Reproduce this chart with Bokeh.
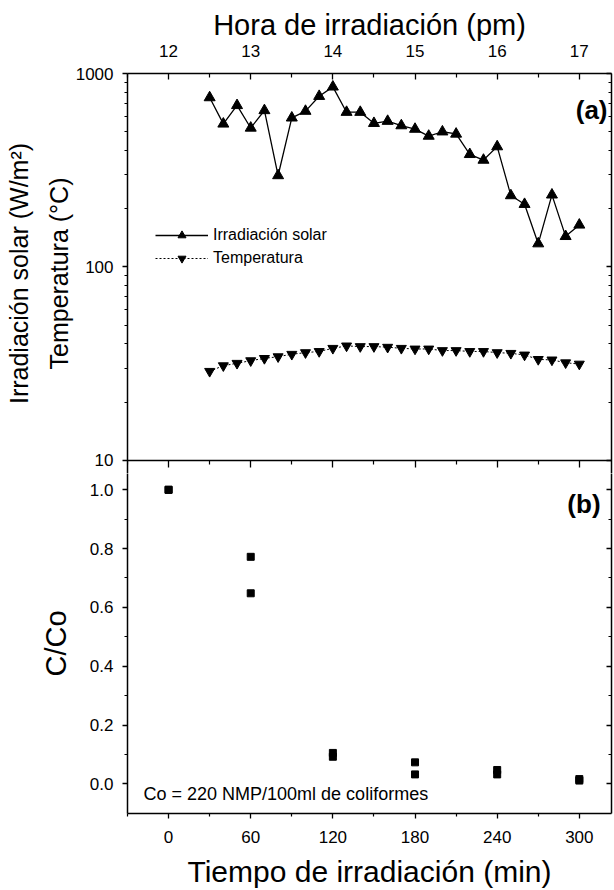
from bokeh.plotting import figure
from bokeh.layouts import column
from bokeh.models import (Range1d, LinearAxis, LogAxis, FixedTicker,
                          Legend, LegendItem, Label, PrintfTickFormatter)
from bokeh.embed import file_html
from bokeh.resources import INLINE

FONT = "Liberation Sans"

# ---------------- data ----------------
minutes = [30, 40, 50, 60, 70, 80, 90, 100, 110, 120, 130, 140, 150, 160,
           170, 180, 190, 200, 210, 220, 230, 240, 250, 260, 270, 280, 290, 300]
irradiance = [751, 549, 684, 523, 644, 297, 590, 639, 763, 853, 631, 631, 553, 567,
              538, 516, 475, 500, 487, 382, 357, 419, 234, 211, 132, 236, 144, 165]
temperature = [28.9, 30.9, 31.8, 32.8, 33.7, 34.4, 35.4, 36.1, 36.6, 38.0, 39.1, 38.8,
               38.8, 38.5, 38.0, 37.7, 37.7, 37.0, 37.0, 36.6, 36.6, 36.1, 35.8, 35.1,
               33.3, 33.1, 32.0, 31.5]
sample_minutes = [0, 0, 60, 60, 120, 120, 180, 180, 240, 240, 300, 300]
c_co = [1.0, 1.0, 0.772, 0.648, 0.105, 0.092, 0.073, 0.032, 0.047, 0.032, 0.016, 0.011]

time_ticks = [0, 60, 120, 180, 240, 300]
time_minor = [-30, 30, 90, 150, 210, 270]
hour_labels = ["12", "13", "14", "15", "16", "17"]
log_ticks = [10, 100, 1000]
log_minor = [20, 30, 40, 50, 60, 70, 80, 90, 200, 300, 400, 500, 600, 700, 800, 900]
cc_ticks = [0.0, 0.2, 0.4, 0.6, 0.8, 1.0]
cc_minor = [0.1, 0.3, 0.5, 0.7, 0.9]

# ---------------- ranges ----------------
X0, X1 = -30, 323.5


def style_axis(ax, tick_font="17px"):
    ax.axis_line_color = "black"
    ax.axis_line_width = 1.5
    ax.major_tick_line_color = "black"
    ax.minor_tick_line_color = "black"
    ax.major_tick_line_width = 1.3
    ax.minor_tick_line_width = 1.2
    ax.major_label_text_font = FONT
    ax.major_label_text_font_size = tick_font
    ax.major_label_text_color = "black"
    ax.axis_label_text_font = FONT
    ax.axis_label_text_font_style = "normal"
    ax.axis_label_text_color = "black"


def hide_labels(ax):
    ax.major_label_text_font_size = "0px"
    ax.major_label_text_color = None
    ax.major_label_standoff = 0


# ================= panel (a) =================
pa = figure(frame_width=484, frame_height=400,
            x_range=Range1d(X0, X1), y_range=Range1d(8.566, 1000),
            y_axis_type="log",
            x_axis_location=None, y_axis_location=None,
            output_backend="svg", toolbar_location=None,
            min_border_left=127, min_border_right=3,
            min_border_top=73, min_border_bottom=0,
            background_fill_color="white", border_fill_color="white")
pa.outline_line_color = None
pa.grid.visible = False

ax_top = LinearAxis(ticker=FixedTicker(ticks=time_ticks, minor_ticks=time_minor),
                    major_label_overrides={t: h for t, h in zip(time_ticks, hour_labels)},
                    axis_label="Hora de irradiación (pm)")
style_axis(ax_top)
ax_top.major_tick_in, ax_top.major_tick_out = 6, 0
ax_top.minor_tick_in, ax_top.minor_tick_out = 4, 0
ax_top.major_label_standoff = 17
ax_top.axis_label_standoff = 1
ax_top.axis_label_text_font_size = "29px"
pa.add_layout(ax_top, "above")

# boundary line between the panels (y = 10), ticks pointing down into panel (b)
ax_mid = LinearAxis(fixed_location=10,
                    ticker=FixedTicker(ticks=time_ticks, minor_ticks=time_minor))
style_axis(ax_mid)
hide_labels(ax_mid)
ax_mid.major_tick_in, ax_mid.major_tick_out = 7, 0
ax_mid.minor_tick_in, ax_mid.minor_tick_out = 4, 0
pa.add_layout(ax_mid, "above")

ax_a = LogAxis(ticker=FixedTicker(ticks=log_ticks, minor_ticks=log_minor),
               formatter=PrintfTickFormatter(format="%d"),
               axis_label="Temperatura (°C)")
style_axis(ax_a)
ax_a.major_tick_in, ax_a.major_tick_out = 0, 5
ax_a.minor_tick_in, ax_a.minor_tick_out = 0, 3
ax_a.major_label_standoff = 9
ax_a.axis_label_standoff = 0
ax_a.axis_label_text_font_size = "25px"
pa.add_layout(ax_a, "left")

ax_a2 = LogAxis(ticker=FixedTicker(ticks=[]),
                axis_label="Irradiación solar (W/m²)")
style_axis(ax_a2)
ax_a2.axis_line_color = None
ax_a2.major_tick_in = ax_a2.major_tick_out = 0
ax_a2.minor_tick_in = ax_a2.minor_tick_out = 0
ax_a2.major_label_standoff = 0
ax_a2.axis_label_standoff = 9
ax_a2.axis_label_text_font_size = "25px"
pa.add_layout(ax_a2, "left")

ax_ra = LogAxis(ticker=FixedTicker(ticks=log_ticks, minor_ticks=log_minor))
style_axis(ax_ra)
hide_labels(ax_ra)
ax_ra.major_tick_in, ax_ra.major_tick_out = 5, 0
ax_ra.minor_tick_in, ax_ra.minor_tick_out = 3, 0
pa.add_layout(ax_ra, "right")

l1 = pa.line(minutes, irradiance, line_color="black", line_width=1.3)
s1 = pa.scatter(minutes, irradiance, marker="triangle", size=11,
                fill_color="black", line_color="black")
l2 = pa.line(minutes, temperature, line_color="black", line_width=1.0, line_dash="2 2")
s2 = pa.scatter(minutes, temperature, marker="inverted_triangle", size=10,
                fill_color="black", line_color="black")

legend = Legend(items=[LegendItem(label="Irradiación solar", renderers=[l1, s1]),
                       LegendItem(label="Temperatura", renderers=[l2, s2])],
                location=(28, 205), orientation="vertical",
                glyph_width=53, glyph_height=20, label_height=20,
                label_standoff=5, spacing=3, padding=0, margin=0,
                border_line_color=None, background_fill_alpha=0,
                label_text_font=FONT, label_text_font_size="16px",
                label_text_color="black")
pa.add_layout(legend)

pa.add_layout(Label(x=320.6, y=644, text="(a)",
                    text_font=FONT, text_font_size="26px", text_font_style="bold",
                    text_align="right", text_baseline="middle", text_color="black"))

# ================= panel (b) =================
pb = figure(frame_width=484, frame_height=340,
            x_range=Range1d(X0, X1), y_range=Range1d(-0.101, 1.0554),
            x_axis_location=None, y_axis_location=None,
            output_backend="svg", toolbar_location=None,
            min_border_left=127, min_border_right=3,
            min_border_top=0, min_border_bottom=76,
            background_fill_color="white", border_fill_color="white")
pb.outline_line_color = None
pb.grid.visible = False

ax_bottom = LinearAxis(ticker=FixedTicker(ticks=time_ticks, minor_ticks=time_minor),
                       axis_label="Tiempo de irradiación (min)")
style_axis(ax_bottom)
ax_bottom.major_tick_in, ax_bottom.major_tick_out = 0, 5
ax_bottom.minor_tick_in, ax_bottom.minor_tick_out = 0, 3
ax_bottom.major_label_standoff = 12
ax_bottom.axis_label_standoff = 9
ax_bottom.axis_label_text_font_size = "30px"
pb.add_layout(ax_bottom, "below")

ax_b = LinearAxis(ticker=FixedTicker(ticks=cc_ticks, minor_ticks=cc_minor),
                  formatter=PrintfTickFormatter(format="%.1f"),
                  axis_label="C/Co")
style_axis(ax_b)
ax_b.major_tick_in, ax_b.major_tick_out = 0, 5
ax_b.minor_tick_in, ax_b.minor_tick_out = 0, 3
ax_b.major_label_standoff = 9
ax_b.axis_label_standoff = 15
ax_b.axis_label_text_font_size = "29px"
pb.add_layout(ax_b, "left")

ax_rb = LinearAxis(ticker=FixedTicker(ticks=cc_ticks, minor_ticks=cc_minor))
style_axis(ax_rb)
hide_labels(ax_rb)
ax_rb.major_tick_in, ax_rb.major_tick_out = 5, 0
ax_rb.minor_tick_in, ax_rb.minor_tick_out = 3, 0
pb.add_layout(ax_rb, "right")

pb.scatter(sample_minutes, c_co, marker="square", size=7,
           fill_color="black", line_color="black")

pb.add_layout(Label(x=315.5, y=0.953, text="(b)",
                    text_font=FONT, text_font_size="26px", text_font_style="bold",
                    text_align="right", text_baseline="middle", text_color="black"))
pb.add_layout(Label(x=-18.3, y=-0.036, text="Co = 220 NMP/100ml de coliformes",
                    text_font=FONT, text_font_size="18px",
                    text_align="left", text_baseline="middle", text_color="black"))

layout = column(pa, pb, spacing=0)
open("out.html", "w").write(file_html(layout, INLINE))
